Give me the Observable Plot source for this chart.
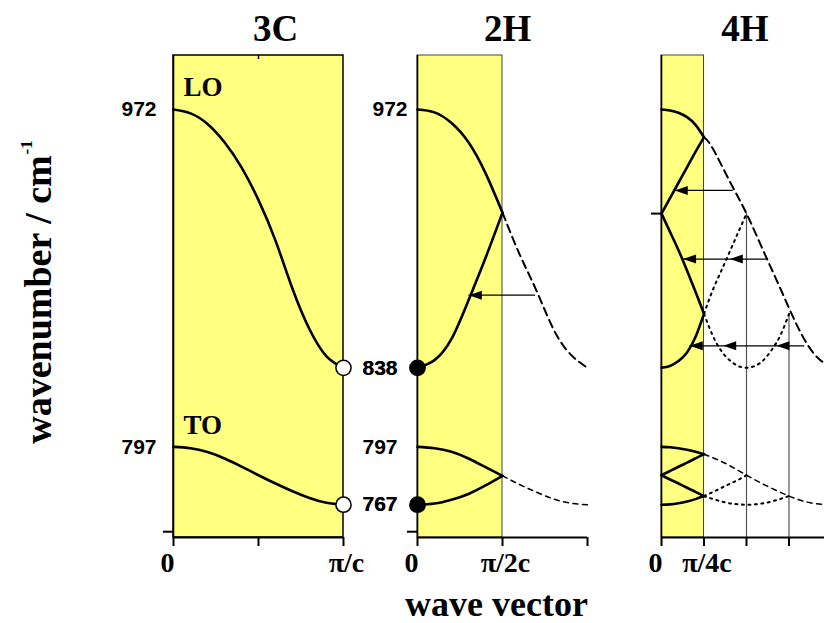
<!DOCTYPE html>
<html><head><meta charset="utf-8">
<script src="https://cdn.jsdelivr.net/npm/d3@7"></script>
<script src="https://cdn.jsdelivr.net/npm/@observablehq/plot@0.6"></script>
<style>
html,body{margin:0;padding:0;overflow:hidden;background:#fff;}
</style></head><body><div id="chart"></div>
<script>
// ---------- data (x in units of π/c, ω in cm⁻¹) ----------
const panels = ["3C", "2H", "4H"];
const titles = ["3C", "2H", "4H"];
const yLabel = "wavenumber / cm";
const ySup = "-1";
const xLabel = "wave vector";
const modeLabels = ["LO", "TO"];

const xFull = [0, 0.1, 0.2, 0.3, 0.4, 0.5, 0.6, 0.7, 0.8, 0.9, 1];
const lo3C = [972, 970, 964.5, 955, 942, 925, 904, 879, 858, 844, 838];
const to3C = [797, 796.3, 794.3, 791, 786.8, 782.3, 778, 774, 770.5, 768, 767];

const xHalf = [0, 0.1, 0.2, 0.3, 0.4, 0.5];
const xHalfOut = [0.5, 0.6, 0.7, 0.8, 0.9, 1];
const lo2H_a = [972, 970.5, 965, 955, 939, 918.5];
const lo2H_b = [838, 842, 853, 873, 895, 918.5];
const lo2H_ext = [918.5, 897, 878, 858, 845, 838];
const to2H_a = [797, 796.3, 794.5, 791, 786.5, 782];
const to2H_b = [767, 767.6, 769.6, 772.6, 777, 782];
const to2H_ext = [782, 777.5, 773.5, 770, 767.8, 767];

const xQuarter = [0, 0.05, 0.1, 0.15, 0.2, 0.25];
const lo4H_a = [972, 971.5, 970.3, 968, 964, 957.6];
const lo4H_b = [918, 926, 934, 942, 950, 957.6];
const lo4H_c = [918, 908.5, 899, 888.5, 877.5, 866];
const lo4H_d = [838, 839, 841.5, 846, 854, 866];
const xExt4H = [0.25, 0.3, 0.4, 0.5, 0.6, 0.7, 0.8, 0.9, 1];
const lo4H_ext = [957.6, 952, 935, 918, 898.5, 879, 859.5, 845, 838];
const xDotA = [0.25, 0.3, 0.35, 0.4, 0.45, 0.5];
const lo4H_dotA = [866, 878, 888, 898, 908, 918];
const xDotB = [0.25, 0.3, 0.35, 0.4, 0.45, 0.5, 0.55, 0.6, 0.65, 0.7, 0.75];
const lo4H_dotB = [866, 855, 847, 842, 839, 838, 839, 842, 847.5, 855, 866];

const to4H_a = [797, 796.8, 796.3, 795.5, 794.5, 793.2];
const to4H_b = [782.3, 784.5, 786.7, 788.8, 791, 793.2];
const to4H_c = [782.3, 780.1, 778, 775.8, 773.7, 771.5];
const to4H_d = [767, 767.2, 767.8, 768.7, 769.9, 771.5];
const xExtTO4H = [0.25, 0.375, 0.5, 0.625, 0.75, 0.875, 1];
const to4H_ext = [793.2, 788.5, 782.3, 776.5, 771.5, 768, 767];
const xDotATO = [0.25, 0.3125, 0.375, 0.4375, 0.5];
const to4H_dotA = [771.5, 774, 776.7, 779.3, 782.3];
const xDotBTO = [0.25, 0.375, 0.5, 0.625, 0.75];
const to4H_dotB = [771.5, 768.2, 767, 768.2, 771.5];

// Brillouin-zone edge of each polytype
const zoneEdge = [1, 0.5, 0.25];
// Γ / zone-edge marker values
const openMarkX = [1, 1];
const openMarkW = [838, 767];
const filledMarkX = [0, 0];
const filledMarkW = [838, 767];
// arrows (folding): start x, end x, ω
const arrows2H = [[0.694, 0.302, 875.7]];
const arrows4H = [[0.422, 0.078, 930], [0.618, 0.127, 894.4], [0.843, 0.166, 849.4]];
const heads2H = [[0.302, 875.7]];
const heads4H = [[0.078, 930], [0.127, 894.4], [0.402, 894.4], [0.166, 849.4], [0.363, 849.4], [0.676, 849.4]];
// guide lines in 4H
const guideX4H = [0.5, 0.75];
const guideW4H = [918, 866];
// ticks
const xTicks = {"3C": [0, 0.5, 1], "2H": [0, 0.5, 1], "4H": [0, 0.25, 0.5, 0.75, 1]};
const yTicks = {"3C": [753], "2H": [753], "4H": [918]};
const xTickZero = "0";
const xTickEdge = {"3C": [1, "π/c"], "2H": [0.5, "π/2c"], "4H": [0.25, "π/4c"]};
const yLab3CLeft = [972, 797];
const yLab3CRight = [838, 767];
const yLab2HTop = [972];
const yLab2HOther = [797, 838, 767];

// ---------- tables ----------
const ser = (panel, id, xs, ws) => xs.map((x, i) => ({panel, id, x, w: ws[i]}));
const solid = [
  ...ser("3C", "lo", xFull, lo3C), ...ser("3C", "to", xFull, to3C),
  ...ser("2H", "loa", xHalf, lo2H_a), ...ser("2H", "lob", xHalf, lo2H_b),
  ...ser("2H", "toa", xHalf, to2H_a), ...ser("2H", "tob", xHalf, to2H_b),
  ...ser("4H", "loa", xQuarter, lo4H_a), ...ser("4H", "lob", xQuarter, lo4H_b),
  ...ser("4H", "loc", xQuarter, lo4H_c), ...ser("4H", "lod", xQuarter, lo4H_d),
  ...ser("4H", "toa", xQuarter, to4H_a), ...ser("4H", "tob", xQuarter, to4H_b),
  ...ser("4H", "toc", xQuarter, to4H_c), ...ser("4H", "tod", xQuarter, to4H_d)
];
const dashedLO = [...ser("2H", "e", xHalfOut, lo2H_ext), ...ser("4H", "e", xExt4H, lo4H_ext)];
const dashedTO = [...ser("2H", "e", xHalfOut, to2H_ext), ...ser("4H", "e", xExtTO4H, to4H_ext)];
const dotted = [
  ...ser("4H", "la", xDotA, lo4H_dotA), ...ser("4H", "lb", xDotB, lo4H_dotB),
  ...ser("4H", "ta", xDotATO, to4H_dotA), ...ser("4H", "tb", xDotBTO, to4H_dotB)
];
const zones = panels.map((p, i) => ({panel: p, edge: zoneEdge[i]}));
const arrowRows = [
  ...arrows2H.map(([x1, x2, w]) => ({panel: "2H", x1, x2, w})),
  ...arrows4H.map(([x1, x2, w]) => ({panel: "4H", x1, x2, w}))
];
const headRows = [
  ...heads2H.map(([x, w]) => ({panel: "2H", x, w})),
  ...heads4H.map(([x, w]) => ({panel: "4H", x, w}))
];
const guides = guideX4H.map((x, i) => ({panel: "4H", x, w: guideW4H[i]}));
const xTickRows = panels.flatMap(p => xTicks[p].map(x => ({panel: p, x})));
const yTickRows = panels.flatMap(p => yTicks[p].map(w => ({panel: p, w})));
const panelRows = panels.map(p => ({panel: p}));
const titleRows = panels.map((p, i) => ({panel: p, t: titles[i]}));
const titleX = {"3C": 0.6, "2H": 0.53, "4H": 0.49};
const edgeLabelRows = panels.map(p => ({panel: p, x: xTickEdge[p][0], t: xTickEdge[p][1]}));
const vals = (panel, arr, x) => arr.map(w => ({panel, w, x}));

const serif = "'Liberation Serif', 'Times New Roman', serif";
const sans = "'Liberation Sans', Arial, sans-serif";

const arrowHead = {
  draw(ctx) { ctx.moveTo(0, 0); ctx.lineTo(13, -4.5); ctx.lineTo(13, 4.5); ctx.closePath(); }
};

const chart = Plot.plot({
  width: 834, height: 623,
  marginTop: 55, marginBottom: 86, marginLeft: 173, marginRight: 3,
  style: {maxWidth: "none", background: "white", overflow: "visible"},
  fx: {domain: panels, paddingInner: 0.3033, paddingOuter: 0, round: false, axis: null, label: null},
  x: {domain: [0, 1], axis: null},
  y: {domain: [750, 1000], axis: null},
  marks: [
    Plot.rect(zones.filter(d => d.panel === "3C"), {fx: "panel", x1: 0, x2: "edge", y1: 750, y2: 1000, fill: "#ffff80", stroke: "black", strokeWidth: 1.5}),
    Plot.rect(zones.filter(d => d.panel !== "3C"), {fx: "panel", x1: 0, x2: "edge", y1: 750, y2: 1000, fill: "#ffff80", stroke: "#444", strokeWidth: 1}),
    Plot.ruleX(guides, {fx: "panel", x: "x", y1: 750, y2: "w", stroke: "#555", strokeWidth: 1.2}),
    Plot.line(dotted, {fx: "panel", x: "x", y: "w", z: "id", stroke: "black", strokeWidth: 2, strokeDasharray: "2,4.5", curve: "natural"}),
    Plot.line(dashedLO, {fx: "panel", x: "x", y: "w", z: "id", stroke: "black", strokeWidth: 2, strokeDasharray: "8,5", curve: "natural"}),
    Plot.line(dashedTO, {fx: "panel", x: "x", y: "w", z: "id", stroke: "black", strokeWidth: 1.5, strokeDasharray: "5,4.5", curve: "natural"}),
    Plot.line(solid, {fx: "panel", x: "x", y: "w", z: "id", stroke: "black", strokeWidth: 2.6, curve: "natural"}),
    Plot.ruleY(arrowRows, {fx: "panel", y: "w", x1: "x1", x2: "x2", stroke: "black", strokeWidth: 1.2}),
    Plot.dot(headRows, {fx: "panel", x: "x", y: "w", symbol: arrowHead, fill: "black", stroke: "none"}),
    Plot.ruleX(panelRows, {fx: "panel", x: 0, y1: 750, y2: 1000, stroke: "black", strokeWidth: 1.6}),
    Plot.ruleY(panelRows, {fx: "panel", y: 750, x1: 0, x2: 1, stroke: "black", strokeWidth: 2}),
    Plot.ruleX(xTickRows, {fx: "panel", x: "x", y1: 750, y2: 750, insetBottom: -9, stroke: "black", strokeWidth: 2}),
    Plot.ruleX([{panel: "3C", x: 0.5}], {fx: "panel", x: "x", y1: 1000, y2: 1000, insetBottom: -4, stroke: "black", strokeWidth: 1.5}),
    Plot.ruleY(yTickRows, {fx: "panel", y: "w", x1: 0, x2: 0, insetLeft: -10, stroke: "black", strokeWidth: 2}),
    Plot.dot(openMarkX.map((x, i) => ({panel: "3C", x, w: openMarkW[i]})), {fx: "panel", x: "x", y: "w", r: 7.6, fill: "white", stroke: "black", strokeWidth: 1.5}),
    Plot.dot(filledMarkX.map((x, i) => ({panel: "2H", x, w: filledMarkW[i]})), {fx: "panel", x: "x", y: "w", r: 8.4, fill: "black", stroke: "none"}),
    // titles
    Plot.text(titleRows, {fx: "panel", x: d => titleX[d.panel], frameAnchor: "top", dy: -26, text: "t", fontFamily: serif, fontWeight: "bold", fontSize: 37, lineAnchor: "middle"}),
    // mode labels
    Plot.text([{panel: "3C", w: 983.4, t: modeLabels[0]}, {panel: "3C", w: 808.4, t: modeLabels[1]}], {fx: "panel", x: 0, y: "w", dx: 10, text: "t", textAnchor: "start", lineAnchor: "middle", fontFamily: serif, fontWeight: "bold", fontSize: 27}),
    // y tick labels
    Plot.text(vals("3C", yLab3CLeft, 0), {fx: "panel", x: "x", y: "w", text: d => String(d.w), textAnchor: "end", dx: -17, fontFamily: sans, fontWeight: "bold", fontSize: 21, lineAnchor: "middle"}),
    Plot.text(vals("3C", yLab3CRight, 1), {fx: "panel", x: "x", y: "w", text: d => String(d.w), textAnchor: "start", dx: 19, fontFamily: sans, fontWeight: "bold", fontSize: 21, lineAnchor: "middle"}),
    Plot.text(vals("2H", yLab2HTop, 0), {fx: "panel", x: "x", y: "w", text: d => String(d.w), textAnchor: "end", dx: -10, fontFamily: sans, fontWeight: "bold", fontSize: 21, lineAnchor: "middle"}),
    Plot.text(vals("2H", yLab2HOther, 0), {fx: "panel", x: "x", y: "w", text: d => String(d.w), textAnchor: "end", dx: -20, fontFamily: sans, fontWeight: "bold", fontSize: 21, lineAnchor: "middle"}),
    // x tick labels
    Plot.text(panelRows, {fx: "panel", x: 0, y: 750, dy: 25.5, dx: -6, text: () => xTickZero, fontFamily: serif, fontWeight: "bold", fontSize: 28, lineAnchor: "middle"}),
    Plot.text(edgeLabelRows, {fx: "panel", x: "x", y: 750, dy: 25.5, dx: 3, text: "t", fontFamily: serif, fontWeight: "bold", fontSize: 28, lineAnchor: "middle"}),
    // axis titles
    Plot.text([{panel: "3C"}], {fx: "panel", frameAnchor: "left", dx: -135, dy: 3, rotate: -90, text: () => yLabel, fontFamily: serif, fontWeight: "bold", fontSize: 38, lineAnchor: "middle", textAnchor: "middle"}),
    Plot.text([{panel: "3C"}], {fx: "panel", frameAnchor: "left", dx: -147, dy: -142, rotate: -90, text: () => ySup, fontFamily: serif, fontWeight: "bold", fontSize: 17, lineAnchor: "middle", textAnchor: "start"}),
    Plot.text([{panel: "2H"}], {fx: "panel", frameAnchor: "bottom", dx: -6, dy: 78, text: () => xLabel, fontFamily: serif, fontWeight: "bold", fontSize: 36, lineAnchor: "bottom"})
  ]
});
document.getElementById("chart").appendChild(chart);
</script>
</body></html>
